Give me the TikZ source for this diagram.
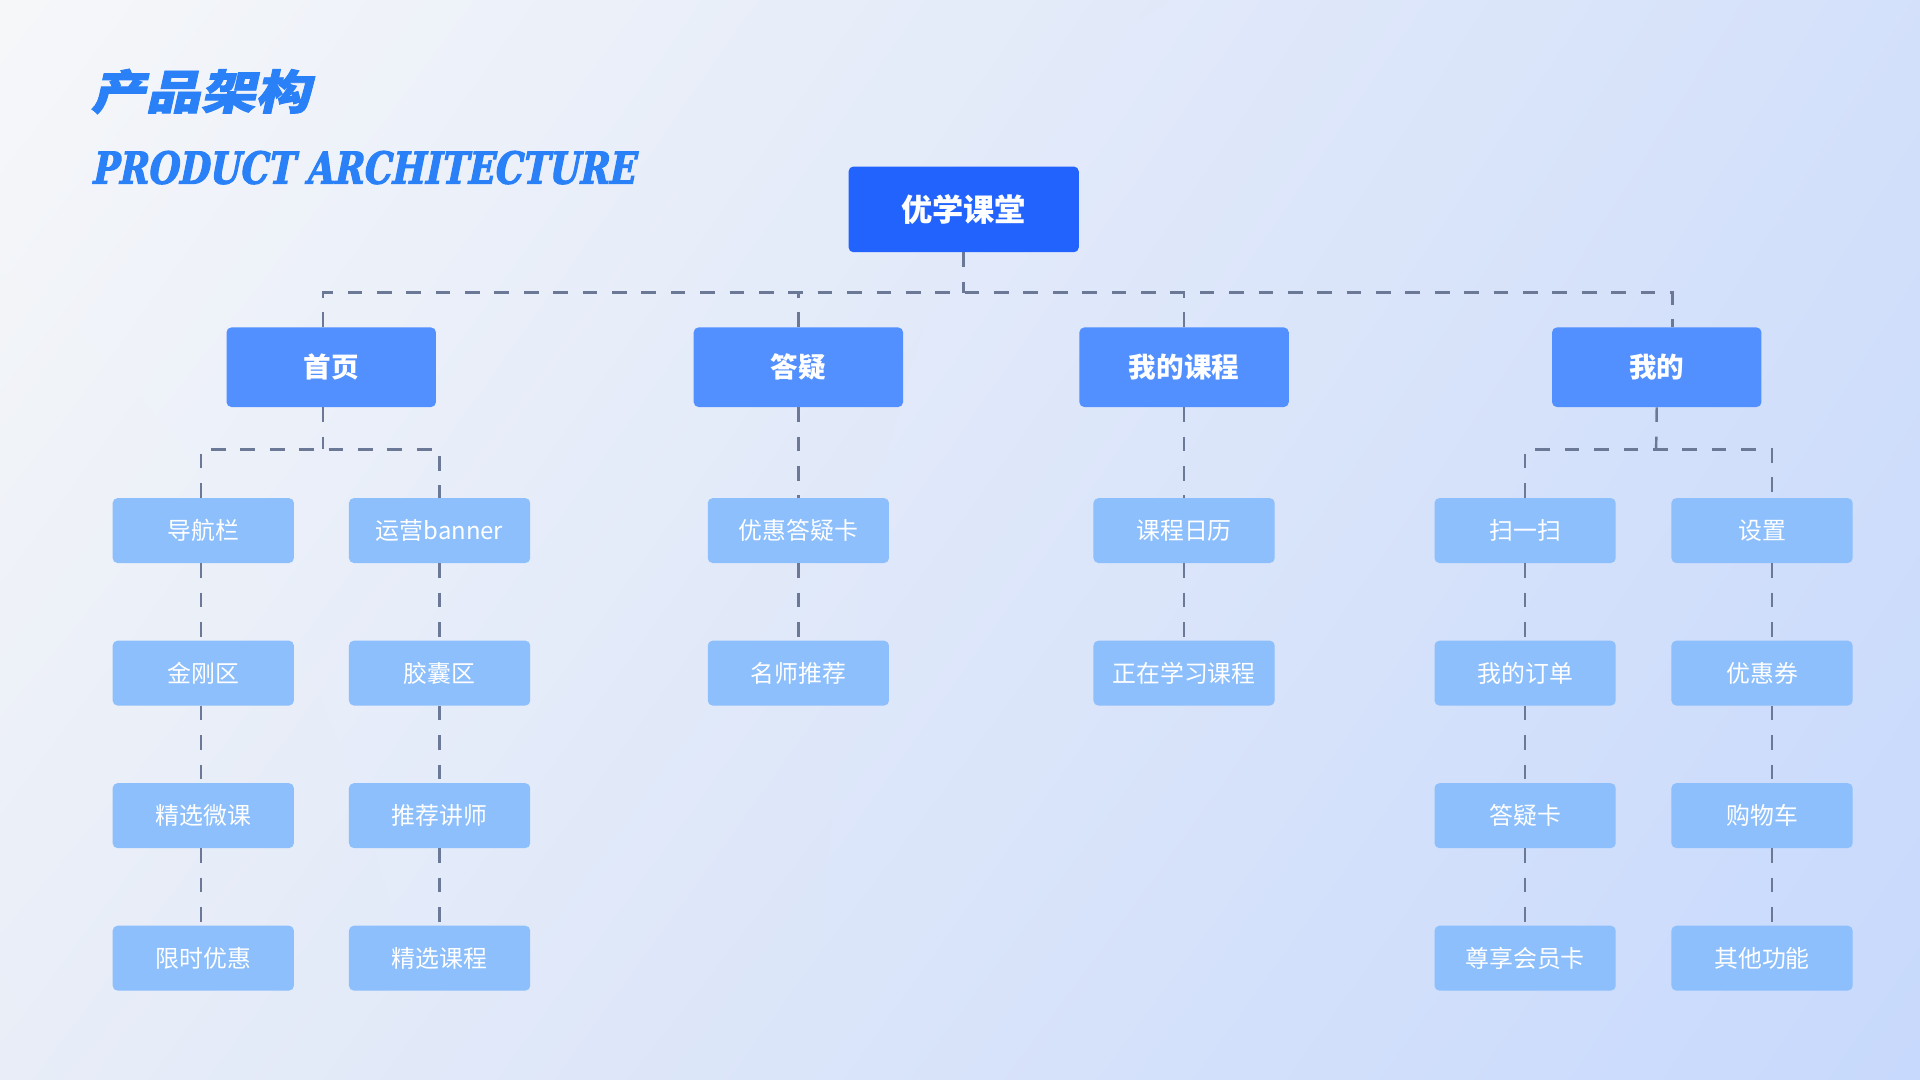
\documentclass[tikz,border=0pt]{standalone}
\usepackage{fontspec}
\setmainfont{Noto Sans CJK SC}
\newfontfamily\titlecjk{Noto Sans CJK SC}[FakeSlant=0.22,FakeBold=1.8,FakeStretch=1.18]
\newfontfamily\titlelatin{DejaVu Serif Bold}[FakeSlant=0.2,FakeStretch=0.8,FakeBold=2.4]
\usepackage{xcolor}
\definecolor{rootblue}{rgb}{0.13, 0.39, 0.99}
\definecolor{midblue}{rgb}{0.32, 0.56, 1.00}
\definecolor{leafblue}{rgb}{0.55, 0.75, 0.99}
\definecolor{titleblue}{rgb}{0.16, 0.50, 0.97}
\definecolor{linkgrey}{rgb}{0.42, 0.47, 0.59}
\definecolor{bgtl}{rgb}{0.965, 0.969, 0.976}
\definecolor{bgtr}{rgb}{0.83, 0.88, 0.98}
\definecolor{bgbl}{rgb}{0.91, 0.93, 0.97}
\definecolor{bgbr}{rgb}{0.78, 0.85, 0.99}
\usepackage{tikz}
\usetikzlibrary{positioning, shadings}
\tikzstyle{topbox}=[rectangle, rounded corners=4pt, minimum width=188pt, minimum height=70pt, inner sep=0pt, text centered, fill=rootblue, text=white, font=\fontsize{25.5pt}{30pt}\selectfont\bfseries]
\tikzstyle{secbox}=[rectangle, rounded corners=4pt, minimum width=171pt, minimum height=65pt, inner sep=0pt, text centered, fill=midblue, text=white, font=\fontsize{22.5pt}{27pt}\selectfont\bfseries]
\tikzstyle{leafbox}=[rectangle, rounded corners=4pt, minimum width=148pt, minimum height=53pt, inner sep=0pt, text centered, fill=leafblue, text=white, font=\fontsize{19.5pt}{23pt}\selectfont]
\tikzstyle{link}=[draw=linkgrey, line width=2pt, dash pattern=on 12pt off 12pt]

\begin{document}
\begin{tikzpicture}[x=1pt, y=1pt, node distance=63pt]
	\shade[upper left=bgtl, upper right=bgtr, lower left=bgbl, lower right=bgbr] (0,0) rectangle (1568,-882);
	
	% title
	\node(titlezh)[anchor=base west, inner sep=0pt, text=titleblue, font=\titlecjk\bfseries\fontsize{38pt}{42pt}\selectfont] at (74,-89){产品架构};
	\node(titleen)[anchor=base west, inner sep=0pt, text=titleblue, font=\titlelatin\fontsize{36pt}{40pt}\selectfont] at (74,-150){PRODUCT ARCHITECTURE};
	
	
	\node(root)[topbox] at (787,-171){优学课堂};
	
	
	\node(home)[secbox, below=61pt of root, xshift=-516.5pt]{首页};
	\node(qa)[secbox, below=61pt of root, xshift=-135pt]{答疑};
	\node(course)[secbox, below=61pt of root, xshift=180pt]{我的课程};
	\node(mine)[secbox, below=61pt of root, xshift=566pt]{我的};
	
	
	\node(nav)[leafbox, below=74pt of home, xshift=-104.5pt]{导航栏};
	\node(kingkong)[leafbox, below=of nav]{金刚区};
	\node(microcourse)[leafbox, below=of kingkong]{精选微课};
	\node(limited)[leafbox, below=of microcourse]{限时优惠};
	
	
	\node(banner)[leafbox, below=74pt of home, xshift=88.5pt]{运营banner};
	\node(capsule)[leafbox, below=of banner]{胶囊区};
	\node(teacher)[leafbox, below=of capsule]{推荐讲师};
	\node(selcourse)[leafbox, below=of teacher]{精选课程};
	
	
	\node(qacard)[leafbox, below=74pt of qa]{优惠答疑卡};
	\node(famous)[leafbox, below=of qacard]{名师推荐};
	
	
	\node(calendar)[leafbox, below=74pt of course]{课程日历};
	\node(learning)[leafbox, below=of calendar]{正在学习课程};
	
	
	\node(scan)[leafbox, below=74pt of mine, xshift=-107.5pt]{扫一扫};
	\node(orders)[leafbox, below=of scan]{我的订单};
	\node(card)[leafbox, below=of orders]{答疑卡};
	\node(vip)[leafbox, below=of card]{尊享会员卡};
	
	
	\node(settings)[leafbox, below=74pt of mine, xshift=86pt]{设置};
	\node(coupon)[leafbox, below=of settings]{优惠券};
	\node(cart)[leafbox, below=of coupon]{购物车};
	\node(others)[leafbox, below=of cart]{其他功能};
	
	
	\coordinate(bus1) at (787,-239);
	\coordinate(bus2) at (264,-367);
	\coordinate(bus3) at (1352.5,-367);
	
	
	\draw[link](root.south)--(bus1);
	\draw[link]([xshift=-6.5pt]home.north)|-([xshift=13pt]mine.north|-bus1)--([xshift=13pt]mine.north);
	\draw[link](qa.north)--(qa.north|-bus1);
	\draw[link](course.north)--(course.north|-bus1);
	\draw[link]([xshift=-6.5pt]home.south)--(bus2);
	\draw[link]([xshift=-2pt]nav.north)|-(banner.north|-bus2)--(banner.north);
	\draw[link](mine.south)--(bus3);
	\draw[link](scan.north)|-([xshift=8pt]settings.north|-bus3)--([xshift=8pt]settings.north);
	\draw[link](qa.south)--(qacard.north);
	\draw[link](course.south)--(calendar.north);
	\draw[link]([xshift=-2pt]nav.south)--([xshift=-2pt]kingkong.north);
	\draw[link]([xshift=-2pt]kingkong.south)--([xshift=-2pt]microcourse.north);
	\draw[link]([xshift=-2pt]microcourse.south)--([xshift=-2pt]limited.north);
	\draw[link](banner.south)--(capsule.north);
	\draw[link](capsule.south)--(teacher.north);
	\draw[link](teacher.south)--(selcourse.north);
	\draw[link](qacard.south)--(famous.north);
	\draw[link](calendar.south)--(learning.north);
	\draw[link](scan.south)--(orders.north);
	\draw[link](orders.south)--(card.north);
	\draw[link](card.south)--(vip.north);
	\draw[link]([xshift=8pt]settings.south)--([xshift=8pt]coupon.north);
	\draw[link]([xshift=8pt]coupon.south)--([xshift=8pt]cart.north);
	\draw[link]([xshift=8pt]cart.south)--([xshift=8pt]others.north);
	
\end{tikzpicture}
\end{document}
